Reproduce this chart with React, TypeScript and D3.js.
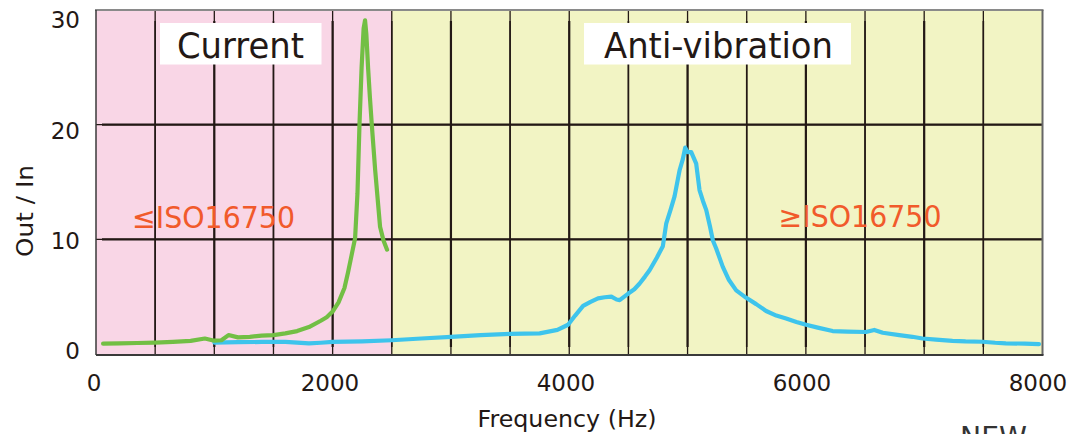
import React from "react";
import * as d3 from "d3";

const W = 1073;
const H = 434;

// Current (green) response
const currentFreq = [60, 200, 350, 500, 650, 800, 920, 1000, 1060, 1120, 1200, 1300, 1400, 1500, 1600, 1700, 1800, 1900, 1950, 2000, 2050, 2100, 2130, 2160, 2190, 2210, 2227, 2245, 2262, 2274, 2285, 2300, 2315, 2331, 2360, 2401, 2430, 2460];
const currentVal = [0.9, 0.93, 0.96, 1.0, 1.06, 1.15, 1.35, 1.16, 1.2, 1.65, 1.45, 1.5, 1.6, 1.65, 1.8, 2.0, 2.35, 2.9, 3.2, 3.7, 4.5, 5.75, 7.1, 8.6, 10.1, 14, 20, 25, 28.4, 29.1, 27.9, 24.9, 22.4, 20, 16, 11.1, 9.9, 9.1];

// Anti-vibration (blue) response
const antiFreq = [1000, 1200, 1400, 1600, 1800, 1900, 2000, 2250, 2500, 2750, 3000, 3250, 3500, 3750, 3900, 3990, 4050, 4117, 4180, 4243, 4300, 4356, 4400, 4426, 4496, 4550, 4595, 4640, 4679, 4740, 4791, 4820, 4860, 4890, 4932, 4960, 4980, 5000, 5031, 5073, 5101, 5130, 5158, 5190, 5214, 5242, 5298, 5350, 5411, 5496, 5580, 5664, 5750, 5833, 5920, 6002, 6100, 6226, 6350, 6508, 6578, 6650, 6789, 6900, 6986, 7100, 7239, 7350, 7493, 7600, 7690, 7850, 7970];
const antiVal = [1.0, 1.03, 1.05, 1.05, 0.93, 0.98, 1.05, 1.1, 1.2, 1.35, 1.5, 1.65, 1.75, 1.8, 2.1, 2.55, 3.35, 4.2, 4.55, 4.85, 4.95, 5.0, 4.75, 4.7, 5.25, 5.65, 6.15, 6.75, 7.3, 8.4, 9.4, 11.4, 12.7, 13.75, 16, 17, 18.0, 17.6, 17.6, 16.6, 14.3, 13.35, 12.55, 11.1, 9.9, 9.2, 7.6, 6.45, 5.55, 4.9, 4.35, 3.75, 3.35, 3.1, 2.8, 2.55, 2.3, 2.0, 1.95, 1.92, 2.1, 1.85, 1.65, 1.5, 1.35, 1.25, 1.15, 1.1, 1.07, 0.98, 0.93, 0.9, 0.86];

const xTicks = [0, 2000, 4000, 6000, 8000];
const yTicks = [0, 10, 20, 30];
const xGrid = [500, 1000, 1500, 2000, 2500, 3000, 3500, 4000, 4500, 5000, 5500, 6000, 6500, 7000, 7500];
const yGrid = [10, 20];
const zoneBoundary = 2500;

const regionLabels = ["Current", "Anti-vibration"];
const isoLabels = ["≤ISO16750", "≥ISO16750"];

const FONT = "'DejaVu Sans', Verdana, sans-serif";
const DARK = "#231815";

export default function App() {
  const x = d3.scaleLinear().domain([0, 8000]).range([96, 1042.5]);
  const y = d3.scaleLinear().domain([0, 30]).range([354, 10]);
  const xLab = d3.scaleLinear().domain([0, 8000]).range([94, 1038]);
  const yLab = d3.scaleLinear().domain([0, 30]).range([350.7, 20]);

  const line = d3
    .line<[number, number]>()
    .x((d) => x(d[0]))
    .y((d) => y(d[1]));

  const cur = currentFreq.map((f, i) => [f, currentVal[i]] as [number, number]);
  const anti = antiFreq.map((f, i) => [f, antiVal[i]] as [number, number]);

  const left = x(0);
  const right = x(8000);
  const top = y(30);
  const bottom = 355;

  return (
    <svg
      width={W}
      height={H}
      style={{ position: "absolute", left: 0, top: 0, background: "#fff" }}
      fontFamily={FONT}
    >
      {/* backgrounds */}
      <rect x={left} y={top} width={x(zoneBoundary) - left} height={bottom - top} fill="#f9d6e6" />
      <rect x={x(zoneBoundary)} y={top} width={right - x(zoneBoundary)} height={bottom - top} fill="#f2f4c4" />

      {/* vertical gridlines */}
      {xGrid.map((g) => (
        <g key={"vx" + g}>
          <line x1={x(g)} x2={x(g)} y1={top} y2={bottom} stroke={DARK} strokeWidth={1.3} />
          <line x1={x(g)} x2={x(g)} y1={21} y2={347} stroke={DARK} strokeWidth={g % 1000 === 0 ? 2.2 : 1.6} />
        </g>
      ))}
      {/* horizontal gridlines */}
      {yGrid.map((g) => (
        <g key={"hy" + g}>
          <line x1={left} x2={right} y1={y(g)} y2={y(g)} stroke={DARK} strokeWidth={1.3} />
          <line x1={left + 6} x2={right} y1={y(g)} y2={y(g)} stroke={DARK} strokeWidth={2.2} />
        </g>
      ))}

      {/* frame */}
      <line x1={left - 1} x2={right + 1} y1={top} y2={top} stroke="#8a8a8a" strokeWidth={2} />
      <line x1={right} x2={right} y1={top} y2={bottom} stroke="#666" strokeWidth={2} />
      <line x1={left} x2={left} y1={top} y2={bottom} stroke="#3a3a3a" strokeWidth={1.5} />
      <line x1={left} x2={right + 1} y1={bottom} y2={bottom} stroke="#3a3a3a" strokeWidth={2} />

      {/* region label boxes */}
      <rect x={160} y={23} width={161.5} height={41.5} fill="#fff" />
      <text x={240.5} y={57.5} textAnchor="middle" fontSize={36} fill={DARK} textLength={127} lengthAdjust="spacingAndGlyphs">
        {regionLabels[0]}
      </text>
      <rect x={584} y={23} width={267} height={41.5} fill="#fff" />
      <text x={718.5} y={57.5} textAnchor="middle" fontSize={36} fill={DARK} textLength={229} lengthAdjust="spacingAndGlyphs">
        {regionLabels[1]}
      </text>

      {/* ISO labels */}
      <text x={213.5} y={228.3} textAnchor="middle" fontSize={29.5} fill="#f15a2b" textLength={163} lengthAdjust="spacingAndGlyphs">
        {isoLabels[0]}
      </text>
      <text x={860} y={226.5} textAnchor="middle" fontSize={29.5} fill="#f15a2b" textLength={163} lengthAdjust="spacingAndGlyphs">
        {isoLabels[1]}
      </text>

      {/* curves */}
      <path d={line(anti) || ""} fill="none" stroke="#3ec4ec" strokeWidth={4.2} strokeLinejoin="round" strokeLinecap="round" />
      <path d={line(cur) || ""} fill="none" stroke="#72bf44" strokeWidth={4.2} strokeLinejoin="round" strokeLinecap="round" />

      {/* x tick labels */}
      {xTicks.map((t) => (
        <text key={"xt" + t} x={xLab(t)} y={391} textAnchor="middle" fontSize={23} fill={DARK}>
          {t}
        </text>
      ))}
      {/* y tick labels */}
      {yTicks.map((t) => (
        <text key={"yt" + t} x={80} y={yLab(t) + 8.3} textAnchor="end" fontSize={23} fill={DARK}>
          {t}
        </text>
      ))}

      {/* axis titles */}
      <text x={567} y={426.7} textAnchor="middle" fontSize={23} fill={DARK} textLength={179} lengthAdjust="spacingAndGlyphs">
        Frequency (Hz)
      </text>
      <text
        transform="translate(33,211) rotate(-90)"
        textAnchor="middle"
        fontSize={23}
        fill={DARK}
        textLength={92}
        lengthAdjust="spacingAndGlyphs"
      >
        Out / In
      </text>

      <text x={960} y={447} fontSize={28} fill="#333" textLength={67} lengthAdjust="spacingAndGlyphs">
        NEW
      </text>
    </svg>
  );
}
